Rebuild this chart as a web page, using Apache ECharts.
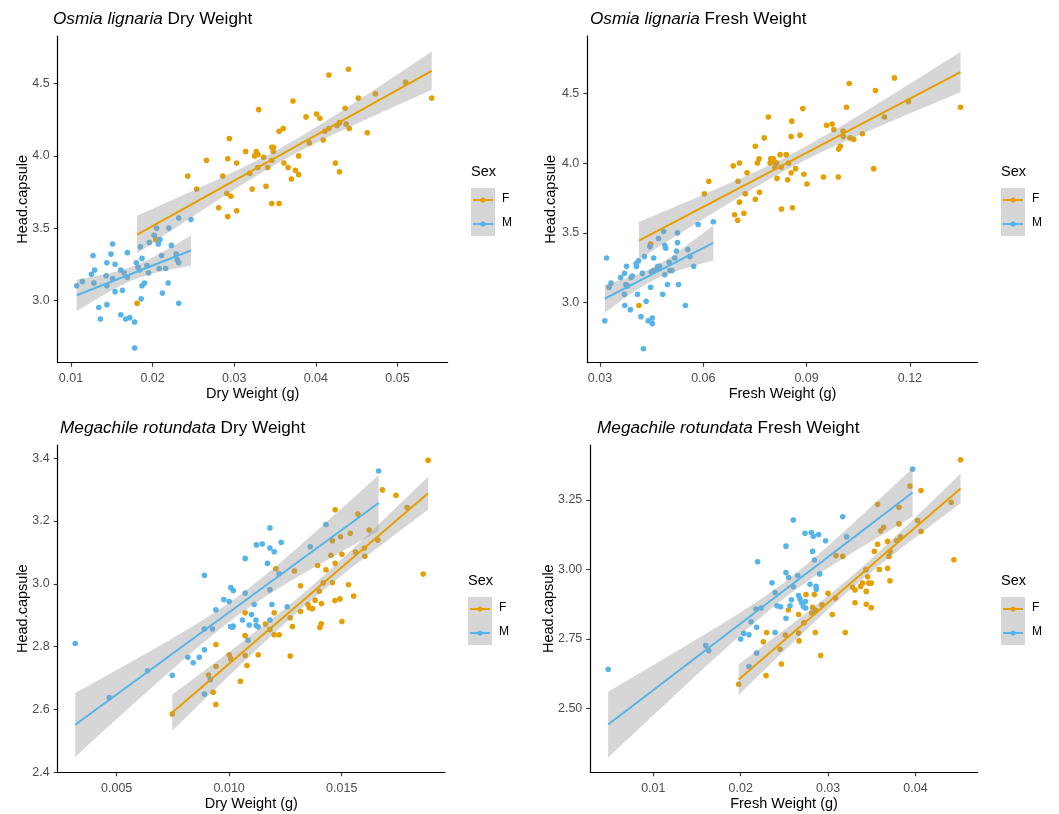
<!DOCTYPE html>
<html><head><meta charset="utf-8">
<script src="https://cdn.jsdelivr.net/npm/echarts@6/dist/echarts.min.js"></script>
<style>html,body{margin:0;padding:0;background:#fff}#c{width:1059px;height:814px}</style>
</head><body><div id="c"></div>
<script>
// ---------- DATA ----------
// Osmia lignaria, Dry weight (g) vs Head.capsule
const olDryF = [[0.0181,2.98],[0.0204,3.42],[0.0243,3.86],[0.0254,3.77],[0.0266,3.97],[0.0281,3.64],[0.0286,3.86],[0.0292,3.58],[0.0292,3.98],[0.0294,4.12],[0.0291,3.74],[0.0296,3.72],[0.0303,3.62],[0.0303,3.95],[0.0314,4.03],[0.0319,3.88],[0.0322,3.77],[0.0325,4.00],[0.0327,4.03],[0.0329,4.01],[0.0330,4.32],[0.0329,3.92],[0.0336,3.99],[0.0339,3.79],[0.0341,3.92],[0.0346,4.06],[0.0348,4.06],[0.0346,3.67],[0.0346,3.97],[0.0348,4.03],[0.0355,3.67],[0.0355,4.17],[0.0360,4.19],[0.0361,3.95],[0.0366,3.92],[0.0370,3.84],[0.0372,4.38],[0.0375,3.90],[0.0379,4.00],[0.0379,3.87],[0.0388,4.27],[0.0392,4.09],[0.0401,4.29],[0.0405,4.26],[0.0409,4.11],[0.0411,4.17],[0.0416,4.19],[0.0416,4.56],[0.0424,3.95],[0.0426,4.21],[0.0429,4.23],[0.0429,3.89],[0.0436,4.33],[0.0437,4.22],[0.0440,4.60],[0.0441,4.19],[0.0452,4.40],[0.0463,4.16],[0.0473,4.43],[0.0510,4.51],[0.0542,4.40]];
const olDryM = [[0.0107,3.10],[0.0114,3.13],[0.0125,3.18],[0.0127,3.31],[0.0129,3.21],[0.0128,3.12],[0.0134,2.95],[0.0136,2.87],[0.0143,3.17],[0.0144,3.26],[0.0144,2.97],[0.0144,3.10],[0.0149,3.32],[0.0151,3.39],[0.0151,3.15],[0.0154,3.25],[0.0154,3.06],[0.0161,2.90],[0.0161,3.21],[0.0163,3.07],[0.0165,3.19],[0.0167,2.87],[0.0169,3.33],[0.0169,3.16],[0.0172,2.88],[0.0178,2.85],[0.0178,2.67],[0.0180,3.26],[0.0182,3.23],[0.0184,3.21],[0.0185,3.37],[0.0187,3.29],[0.0186,3.01],[0.0187,3.10],[0.0190,3.12],[0.0193,3.24],[0.0195,3.19],[0.0196,3.40],[0.0202,3.45],[0.0205,3.50],[0.0207,3.39],[0.0209,3.42],[0.0208,3.22],[0.0211,3.31],[0.0212,3.05],[0.0216,3.22],[0.0219,3.12],[0.0220,3.50],[0.0223,3.38],[0.0229,3.32],[0.0230,3.28],[0.0232,3.57],[0.0232,3.26],[0.0232,2.98],[0.0247,3.56]];
// Osmia lignaria, Fresh weight (g) vs Head.capsule
const olFreshF = [[0.0413,2.98],[0.0447,3.42],[0.0603,3.78],[0.0616,3.87],[0.0687,3.98],[0.0691,3.63],[0.0700,3.59],[0.0701,3.87],[0.0705,4.00],[0.0705,3.72],[0.0718,3.64],[0.0722,3.78],[0.0727,3.93],[0.0751,3.74],[0.0751,4.12],[0.0757,4.00],[0.0762,4.03],[0.0763,3.79],[0.0777,4.18],[0.0789,4.33],[0.0794,4.00],[0.0796,4.03],[0.0803,4.03],[0.0806,4.01],[0.0808,3.97],[0.0813,4.00],[0.0814,3.89],[0.0823,4.06],[0.0826,3.97],[0.0827,3.67],[0.0841,4.06],[0.0845,3.88],[0.0848,4.00],[0.0855,4.19],[0.0857,4.30],[0.0855,3.93],[0.0859,3.68],[0.0868,3.96],[0.0881,4.20],[0.0889,4.39],[0.0892,3.92],[0.0901,3.85],[0.0949,3.90],[0.0958,4.27],[0.0974,4.28],[0.0979,4.24],[0.0992,3.90],[0.0993,4.10],[0.0998,4.12],[0.1006,4.23],[0.1007,4.19],[0.1016,4.40],[0.1024,4.57],[0.1026,4.18],[0.1037,4.17],[0.1062,4.21],[0.1095,3.96],[0.1100,4.52],[0.1126,4.33],[0.1155,4.61],[0.1196,4.44],[0.1347,4.40]];
const olFreshM = [[0.0314,2.87],[0.0319,3.32],[0.0326,3.11],[0.0332,3.14],[0.0360,3.18],[0.0371,3.21],[0.0371,3.06],[0.0372,2.98],[0.0375,3.13],[0.0377,3.26],[0.0380,3.12],[0.0388,2.95],[0.0390,3.18],[0.0394,3.19],[0.0405,3.28],[0.0406,3.26],[0.0409,3.06],[0.0412,3.30],[0.0419,2.90],[0.0423,3.21],[0.0426,2.67],[0.0429,3.33],[0.0434,3.01],[0.0440,2.87],[0.0445,3.40],[0.0447,3.11],[0.0449,3.22],[0.0452,2.89],[0.0452,2.85],[0.0455,3.23],[0.0456,3.32],[0.0465,3.24],[0.0468,3.26],[0.0470,3.46],[0.0473,3.26],[0.0482,3.06],[0.0485,3.51],[0.0488,3.20],[0.0488,3.41],[0.0491,3.39],[0.0496,3.13],[0.0501,3.29],[0.0503,3.23],[0.0509,3.23],[0.0517,3.32],[0.0522,3.37],[0.0525,3.50],[0.0525,3.43],[0.0528,3.13],[0.0548,2.98],[0.0555,3.38],[0.0561,3.33],[0.0572,3.26],[0.0585,3.56],[0.0629,3.58]];
// Megachile rotundata, Dry weight (g) vs Head.capsule
const mrDryF = [[0.00747,2.586],[0.00908,2.710],[0.00929,2.655],[0.00941,2.737],[0.00941,2.807],[0.00941,2.616],[0.01000,2.774],[0.01007,2.761],[0.01050,2.690],[0.01071,2.835],[0.01071,2.908],[0.01071,2.772],[0.01079,2.740],[0.01129,2.774],[0.01161,2.872],[0.01181,2.855],[0.01200,2.908],[0.01200,2.838],[0.01207,3.048],[0.01222,2.838],[0.01271,2.770],[0.01271,2.892],[0.01281,2.864],[0.01290,3.041],[0.01317,2.994],[0.01317,2.912],[0.01350,2.934],[0.01356,2.924],[0.01370,2.921],[0.01382,2.948],[0.01393,3.058],[0.01400,2.976],[0.01403,2.861],[0.01409,2.873],[0.01410,2.937],[0.01418,3.003],[0.01430,3.045],[0.01452,3.091],[0.01459,3.137],[0.01459,3.004],[0.01470,2.947],[0.01471,3.236],[0.01471,3.065],[0.01492,2.952],[0.01495,3.150],[0.01501,3.094],[0.01501,2.880],[0.01530,2.997],[0.01538,3.161],[0.01553,2.961],[0.01561,3.101],[0.01572,3.222],[0.01601,3.114],[0.01603,3.088],[0.01622,3.171],[0.01661,3.139],[0.01681,3.299],[0.01741,3.282],[0.01791,3.243],[0.01862,3.031],[0.01884,3.393]];
const mrDryM = [[0.00316,2.810],[0.00467,2.638],[0.00637,2.723],[0.00747,2.709],[0.00816,2.766],[0.00840,2.749],[0.00867,2.766],[0.00890,3.027],[0.00890,2.790],[0.00890,2.856],[0.00890,2.649],[0.00926,2.856],[0.00941,2.917],[0.00916,2.695],[0.00976,2.950],[0.01000,2.944],[0.01007,2.988],[0.01018,2.979],[0.01006,2.864],[0.01018,2.866],[0.01015,2.862],[0.01059,2.885],[0.01071,3.081],[0.01071,2.971],[0.01084,2.820],[0.01089,2.869],[0.01099,2.902],[0.01111,2.934],[0.01119,2.885],[0.01121,3.124],[0.01120,2.867],[0.01129,2.863],[0.01147,3.127],[0.01170,3.065],[0.01181,3.178],[0.01181,3.114],[0.01181,2.981],[0.01181,2.885],[0.01190,2.934],[0.01200,3.102],[0.01222,3.032],[0.01231,3.132],[0.01258,2.927],[0.01360,3.118],[0.01430,3.189],[0.01664,3.359]];
// Megachile rotundata, Fresh weight (g) vs Head.capsule
const mrFreshF = [[0.01977,2.587],[0.02259,2.740],[0.02290,2.618],[0.02297,2.773],[0.02450,2.713],[0.02465,2.660],[0.02511,2.764],[0.02545,2.854],[0.02663,2.771],[0.02663,2.838],[0.02667,2.743],[0.02724,2.808],[0.02747,2.910],[0.02812,2.843],[0.02823,2.864],[0.02843,2.910],[0.02854,2.773],[0.02862,2.852],[0.02915,2.690],[0.02930,2.873],[0.02999,2.914],[0.03048,2.838],[0.03083,2.897],[0.03090,3.050],[0.03167,3.047],[0.03197,2.773],[0.03281,2.936],[0.03308,2.926],[0.03308,2.880],[0.03372,2.939],[0.03395,2.951],[0.03433,2.999],[0.03437,2.921],[0.03437,2.875],[0.03453,2.974],[0.03464,2.951],[0.03494,2.951],[0.03494,2.862],[0.03529,3.065],[0.03567,3.235],[0.03567,3.091],[0.03586,3.000],[0.03601,3.139],[0.03636,3.152],[0.03681,3.004],[0.03681,3.101],[0.03697,3.047],[0.03708,2.959],[0.03708,3.065],[0.03784,3.103],[0.03811,3.224],[0.03811,3.164],[0.03830,3.118],[0.03937,3.300],[0.04024,3.176],[0.04063,3.284],[0.04063,3.137],[0.04409,3.242],[0.04440,3.035],[0.04516,3.395]];
const mrFreshM = [[0.00483,2.641],[0.01600,2.726],[0.01634,2.708],[0.02000,2.750],[0.02034,2.770],[0.02095,2.765],[0.02095,2.651],[0.02118,2.812],[0.02175,2.858],[0.02183,2.792],[0.02183,2.699],[0.02194,3.028],[0.02233,2.861],[0.02358,2.952],[0.02393,2.917],[0.02393,2.773],[0.02416,2.869],[0.02457,2.866],[0.02518,3.084],[0.02518,2.989],[0.02518,2.824],[0.02549,2.971],[0.02564,2.869],[0.02580,2.891],[0.02602,3.178],[0.02602,2.938],[0.02652,2.978],[0.02663,2.906],[0.02679,2.894],[0.02698,2.880],[0.02717,2.867],[0.02736,3.130],[0.02740,2.885],[0.02743,2.861],[0.02793,2.947],[0.02808,3.133],[0.02823,3.065],[0.02831,3.120],[0.02843,3.034],[0.02862,2.939],[0.02865,2.929],[0.02892,3.126],[0.02904,2.984],[0.02972,3.103],[0.03167,3.190],[0.03212,3.118],[0.03967,3.361]];

// tick values and labels
const ticksX1 = [0.01,0.02,0.03,0.04,0.05], labelsX1 = ['0.01','0.02','0.03','0.04','0.05'];
const ticksY1 = [3.0,3.5,4.0,4.5], labelsY1 = ['3.0','3.5','4.0','4.5'];
const ticksX2 = [0.03,0.06,0.09,0.12], labelsX2 = ['0.03','0.06','0.09','0.12'];
const ticksY2 = [3.0,3.5,4.0,4.5], labelsY2 = ['3.0','3.5','4.0','4.5'];
const ticksX3 = [0.005,0.010,0.015], labelsX3 = ['0.005','0.010','0.015'];
const ticksY3 = [2.4,2.6,2.8,3.0,3.2,3.4], labelsY3 = ['2.4','2.6','2.8','3.0','3.2','3.4'];
const ticksX4 = [0.01,0.02,0.03,0.04], labelsX4 = ['0.01','0.02','0.03','0.04'];
const ticksY4 = [2.50,2.75,3.00,3.25], labelsY4 = ['2.50','2.75','3.00','3.25'];

const titlesItalic = ['Osmia lignaria','Osmia lignaria','Megachile rotundata','Megachile rotundata'];
const titlesPlain = [' Dry Weight',' Fresh Weight',' Dry Weight',' Fresh Weight'];
const xNames = ['Dry Weight (g)','Fresh Weight (g)','Dry Weight (g)','Fresh Weight (g)'];
const yName = 'Head.capsule';
const sexLevels = ['F','M'];

// ---------- LAYOUT / STYLE ----------
const FONT = '"Liberation Sans", Arial, sans-serif';
const COLF = '#E69F00', COLM = '#56B4E9';
const BAND = 'rgba(153,153,153,0.4)';
const panels = [
  {grid:{left:57.7, top:36, width:390, height:326.7}, xr:[0.00837,0.05616], yr:[2.568,4.83],
   tx:ticksX1, lx:labelsX1, ty:ticksY1, ly:labelsY1, F:olDryF, M:olDryM, title:{left:53, top:10.5}, yGap:27, leg:{x:471,y:173}},
  {grid:{left:587.3, top:36, width:390.4, height:326.7}, xr:[0.02631,0.1397], yr:[2.57,4.91],
   tx:ticksX2, lx:labelsX2, ty:ticksY2, ly:labelsY2, F:olFreshF, M:olFreshM, title:{left:590, top:10.5}, yGap:29, leg:{x:1001,y:173}},
  {grid:{left:57.7, top:445, width:387.3, height:327.3}, xr:[0.00238,0.01959], yr:[2.40,3.442],
   tx:ticksX3, lx:labelsX3, ty:ticksY3, ly:labelsY3, F:mrDryF, M:mrDryM, title:{left:60, top:420}, yGap:27, leg:{x:468,y:582}},
  {grid:{left:590.3, top:445, width:387.4, height:327.3}, xr:[0.00279,0.04712], yr:[2.27,3.448],
   tx:ticksX4, lx:labelsX4, ty:ticksY4, ly:labelsY4, F:mrFreshF, M:mrFreshM, title:{left:597, top:420}, yGap:33.5, leg:{x:1001,y:582}}
];

// linear model with 95% confidence band (as geom_smooth(method='lm'))
function lmBand(pts){
  const n = pts.length;
  let mx=0,my=0; pts.forEach(p=>{mx+=p[0];my+=p[1];}); mx/=n; my/=n;
  let sxx=0,sxy=0; pts.forEach(p=>{sxx+=(p[0]-mx)**2; sxy+=(p[0]-mx)*(p[1]-my);});
  const b=sxy/sxx, a=my-b*mx;
  let sse=0; pts.forEach(p=>{sse+=(p[1]-a-b*p[0])**2;});
  const s=Math.sqrt(sse/(n-2)), df=n-2, z=1.959964;
  const t = z + (z**3+z)/(4*df) + (5*z**5+16*z**3+3*z)/(96*df*df);
  const xs=pts.map(p=>p[0]); const x0=Math.min(...xs), x1=Math.max(...xs);
  const up=[], lo=[], N=80;
  for(let i=0;i<=N;i++){
    const x=x0+(x1-x0)*i/N, yh=a+b*x, se=s*Math.sqrt(1/n+(x-mx)**2/sxx);
    up.push([x,yh+t*se]); lo.push([x,yh-t*se]);
  }
  return {line:[[x0,a+b*x0],[x1,a+b*x1]], poly:up.concat(lo.reverse())};
}

function pickLabel(ticks, labels){
  return v => { let k=0; ticks.forEach((t,i)=>{ if(Math.abs(t-v)<Math.abs(ticks[k]-v)) k=i; }); return labels[k]; };
}

const grid=[], xAxis=[], yAxis=[], series=[], title=[], graphic=[];
panels.forEach((P,i)=>{
  grid.push(Object.assign({containLabel:false}, P.grid));
  title.push({left:P.title.left, top:P.title.top, padding:0,
    text:'{i|'+titlesItalic[i]+'}'+titlesPlain[i],
    textStyle:{fontFamily:FONT, fontSize:17.2, fontWeight:'normal', color:'#000',
      rich:{i:{fontFamily:FONT, fontSize:17.2, fontStyle:'italic', color:'#000'}}}});
  xAxis.push({type:'value', gridIndex:i, min:P.xr[0], max:P.xr[1],
    name:xNames[i], nameLocation:'middle', nameGap:24,
    nameTextStyle:{fontFamily:FONT, fontSize:14.5, color:'#000'},
    axisLine:{show:true, onZero:false, lineStyle:{color:'#000', width:1.2}},
    axisTick:{show:true, length:4, customValues:P.tx, lineStyle:{color:'#333', width:1.1}},
    axisLabel:{customValues:P.tx, formatter:pickLabel(P.tx,P.lx), fontFamily:FONT, fontSize:12.5, color:'#4D4D4D', margin:9.5},
    splitLine:{show:false}});
  yAxis.push({type:'value', gridIndex:i, min:P.yr[0], max:P.yr[1],
    name:yName, nameLocation:'middle', nameGap:P.yGap, nameRotate:90, nameMoveOverlap:false,
    nameTextStyle:{fontFamily:FONT, fontSize:14.5, color:'#000'},
    axisLine:{show:true, onZero:false, lineStyle:{color:'#000', width:1.2}},
    axisTick:{show:true, length:4, customValues:P.ty, lineStyle:{color:'#333', width:1.1}},
    axisLabel:{customValues:P.ty, formatter:pickLabel(P.ty,P.ly), fontFamily:FONT, fontSize:12.5, color:'#4D4D4D', margin:8},
    splitLine:{show:false}});
  [['F',P.F,COLF],['M',P.M,COLM]].forEach(([sx,pts,col])=>{
    series.push({type:'scatter', name:sx, xAxisIndex:i, yAxisIndex:i, data:pts,
      symbolSize:5.6, itemStyle:{color:col, opacity:1}, z:2, silent:true});
  });
  [['F',P.F,COLF],['M',P.M,COLM]].forEach(([sx,pts,col])=>{
    const fit=lmBand(pts);
    series.push({type:'custom', xAxisIndex:i, yAxisIndex:i, z:3, silent:true,
      data:[fit.poly[0]],
      renderItem:(params,api)=>({type:'polygon', shape:{points:fit.poly.map(p=>api.coord(p))},
        style:{fill:BAND}})});
    series.push({type:'line', xAxisIndex:i, yAxisIndex:i, data:fit.line, z:4, silent:true,
      showSymbol:false, lineStyle:{color:col, width:2}});
  });
  // legend (ggplot style guide)
  const L=P.leg;
  graphic.push({type:'text', left:L.x, top:L.y-9, style:{text:'Sex', font:'14.5px '+FONT, fill:'#000'}});
  graphic.push({type:'rect', shape:{x:L.x, y:L.y+15, width:24, height:48}, style:{fill:'#D6D6D6'}});
  sexLevels.forEach((s,k)=>{
    const yy=L.y+27+k*24, col=k===0?COLF:COLM;
    graphic.push({type:'line', shape:{x1:L.x+2, y1:yy, x2:L.x+22, y2:yy}, style:{stroke:col, lineWidth:2}});
    graphic.push({type:'circle', shape:{cx:L.x+12, cy:yy, r:2.6}, style:{fill:col}});
    graphic.push({type:'text', left:L.x+31, top:yy-7, style:{text:s, font:'12px '+FONT, fill:'#000'}});
  });
});

const chart = echarts.init(document.getElementById('c'), null, {renderer:'canvas'});
chart.setOption({animation:false, backgroundColor:'#fff', title, grid, xAxis, yAxis, series, graphic});
</script></body></html>
